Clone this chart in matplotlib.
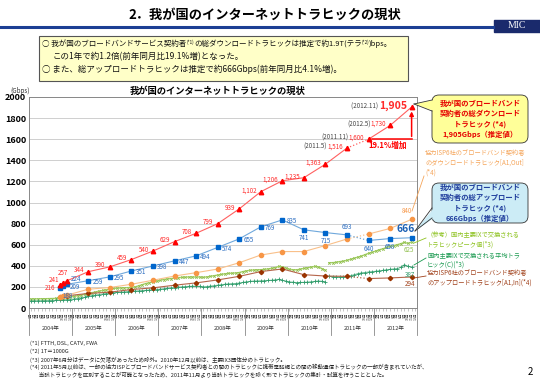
import matplotlib
matplotlib.use('Agg')
import matplotlib.pyplot as plt
from matplotlib.patches import FancyBboxPatch, Polygon, Rectangle
from matplotlib.offsetbox import TextArea, HPacker, AnnotationBbox
import numpy as np

plt.rcParams['font.family'] = ['Noto Sans CJK JP', 'DejaVu Sans']

# ---- data ----
years = ['2004年', '2005年', '2006年', '2007年', '2008年', '2009年', '2010年', '2011年', '2012年']
month_names = ['1月', '2月', '3月', '4月', '5月', '6月', '7月', '8月', '9月', '10月', '11月', '12月']

# month index: 0 = 2004年1月
semi_months = [8, 9, 10, 16, 22, 28, 34, 40, 46, 52, 58, 64, 70, 76, 82, 88, 94, 100, 106]
total_down = [216, 241, 257, 344, 390, 459, 540, 629, 708, 799, 939, 1102, 1206, 1235, 1363, 1516, 1600, 1730, 1905]
total_up = [188, 209, 224, 259, 295, 351, 398, 447, 494, 574, 655, 769, 835, 741, 715, 693, 640, 658, 666]
isp_down = [108, 115, 121, 178, 194, 225, 263, 303, 335, 369, 429, 502, 535, 535, 592, 654, 701, 754, 840]
isp_up = [104, 110, 116, 138, 150, 175, 191, 216, 238, 266, 300, 345, 370, 316, 303, 300, 279, 285, 294]
down_prefix = {15: '(2011.5)', 16: '(2011.11)', 17: '(2012.5)', 18: '(2012.11)'}

# IX monthly, 2004.1-2010.11 (3 IX) and 2010.12-2012.11 (5 IX)
ix_peak_a = [85, 86, 87, 88, 88, 89, 90, 91, 92, 95, 99, 104,
             110, 116, 122, 130, 137, 145, 152, 160, 166, 172, 179, 185,
             188, 190, 192, 193, 195, 200, 210, 221, 232, 240, 247, 255,
             262, 270, 276, 279, 283, 287, 290, 292, 294, 294, 293, 294,
             290, 295, 300, 306, 312, 318, 324, 328, 330, 332, 336, 345,
             352, 357, 360, 362, 363, 366, 370, 376, 383, 394, 388, 380,
             366, 363, 362, 368, 376, 382, 388, 394, 390, 374, 358]
ix_peak_b = [429, 430, 433, 440, 444, 452, 462, 472, 482, 492, 505, 519,
             528, 540, 552, 561, 574, 585, 592, 600, 610, 622, 612, 625]
ix_avg_a = [66, 67, 68, 68, 69, 70, 71, 72, 74, 76, 78, 80,
            85, 90, 96, 103, 110, 117, 122, 127, 132, 137, 141, 145,
            147, 150, 152, 155, 158, 160, 162, 165, 167, 170, 173, 175,
            178, 182, 186, 190, 194, 197, 200, 203, 205, 206, 207, 205,
            200, 203, 207, 211, 216, 220, 225, 228, 230, 232, 236, 242,
            248, 252, 255, 256, 257, 259, 261, 263, 266, 272, 262, 255,
            247, 244, 241, 242, 243, 245, 248, 252, 256, 253, 247]
ix_avg_b = [300, 298, 295, 294, 296, 300, 306, 315, 325, 332, 336, 341,
            344, 348, 352, 357, 362, 366, 370, 373, 385, 410, 395, 387]

footnotes = [
    '(*1) FTTH, DSL, CATV, FWA',
    '(*2) 1T＝1000G',
    '(*3) 2007年6月分はデータに欠落があったため除外。2010年12月以前は、主要IX3団体分のトラヒック。',
    '(*4) 2011年5月以前は、一部の協力ISPとブロードバンドサービス契約者との間のトラヒックに携帯電話網との間の移動通信トラヒックの一部が含まれていたが、',
    '       当該トラヒックを区別することが可能となったため、2011年11月より当該トラヒックを除く形でトラヒックの集計・試算を行うこととした。',
]

W, H = 540, 383


def fx(x):
    return x / W


def fy(y):
    return 1 - y / H


def px(x, y):
    return (x / 100, (H - y) / 100)


fig = plt.figure(figsize=(5.4, 3.83), dpi=100)

# ---- header ----
fig.text(fx(265), fy(15), '2．我が国のインターネットトラヒックの現状', ha='center', va='center',
         fontsize=9.5, fontweight='bold')
fig.add_artist(plt.Line2D([0, fx(493)], [fy(27), fy(27)], color='#1c3f94', lw=2.2))
fig.add_artist(Rectangle((fx(494), fy(32)), fx(46), 12 / H, color='#1a2a6c'))
fig.text(fx(517), fy(26), 'MIC', ha='center', va='center', color='white', fontsize=7,
         family='Liberation Serif')

fig.add_artist(Rectangle((fx(39), fy(81)), fx(369), 45 / H, fc='#ffffc8', ec='#555555', lw=0.8))


def info_line(parts, x, y, size):
    kids = []
    for s, small in parts:
        kids.append(TextArea(s, textprops=dict(fontsize=size * 0.6 if small else size, color='#111111')))
    box = HPacker(children=kids, align='top', pad=0, sep=0)
    fig.add_artist(AnnotationBbox(box, (fx(x), fy(y)), xycoords='figure fraction',
                                  box_alignment=(0, 0.5), frameon=False, pad=0))


info_line([('○ 我が国のブロードバンドサービス契約者', False), ('(*1)', True),
           ('の総ダウンロードトラヒックは推定で約1.9T(テラ', False), ('(*2)', True), (')bps。', False)],
          42, 44, 5.45)
info_line([('この1年で約1.2倍(前年同月比19.1%増)となった。', False)], 53, 56.5, 6.1)
info_line([('○ また、総アップロードトラヒックは推定で約666Gbps(前年同月比4.1%増)。', False)], 42, 69, 6.1)

# ---- chart ----
ax = fig.add_axes([fx(29), fy(308), fx(388), 211 / H])
fig.text(fx(10), fy(91), '(Gbps)', fontsize=4.5, va='center', color='#333333')
fig.text(fx(218), fy(91), '我が国のインターネットトラヒックの現状', ha='center', va='center',
         fontsize=6.7, fontweight='bold')

ax.set_xlim(-0.5, 107.5)
ax.set_ylim(0, 2000)
ax.set_yticks(range(0, 2001, 200))
ax.tick_params(axis='y', length=0, labelsize=6.5, pad=2)
for lab in ax.get_yticklabels():
    lab.set_fontweight('bold')
ax.grid(axis='y', color='#c8c8c8', lw=0.6)
ax.set_axisbelow(True)
for s in ax.spines.values():
    s.set_color('#888888')
    s.set_linewidth(0.7)

ax.set_xticks(range(108))
ax.set_xticklabels([month_names[m % 12] for m in range(108)], rotation=90, fontsize=2.6, color='#444444')
ax.tick_params(axis='x', length=2, width=0.4, color='#999999', pad=1)
tr = ax.get_xaxis_transform()
for k in range(10):
    ax.plot([12 * k - 0.5] * 2, [0, -0.13], transform=tr, color='#888888', lw=0.6, clip_on=False)
for k, yr in enumerate(years):
    ax.text(12 * k + 5.5, -0.095, yr, transform=tr, ha='center', va='center', fontsize=4, color='#333333')

# IX monthly
xa = np.arange(len(ix_peak_a))
xb = np.arange(len(ix_peak_a), len(ix_peak_a) + len(ix_peak_b))
ax.plot(xa, ix_peak_a, color='#a8d26a', lw=1.0, marker='x', ms=1.8, mec='#92c050', mew=0.6)
ax.plot(xb, ix_peak_b, color='#a8d26a', lw=1.0, marker='x', ms=1.8, mec='#92c050', mew=0.6)
ax.plot(xa, ix_avg_a, color='#5cb88a', lw=0.7, marker='+', ms=2.2, mec='#2e9a6a', mew=0.6)
ax.plot(xb, ix_avg_b, color='#5cb88a', lw=0.7, marker='+', ms=2.2, mec='#2e9a6a', mew=0.6)


def draw_series(vals, lcolor, mcolor, marker, ms):
    x = np.array(semi_months)
    y = np.array(vals)
    ax.plot(x[:16], y[:16], '-', color=lcolor, lw=0.8)
    ax.plot(x[15:17], y[15:17], ':', color=lcolor, lw=0.9)
    ax.plot(x[16:], y[16:], '-', color=lcolor, lw=0.8)
    ax.plot(x, y, ls='none', marker=marker, color=mcolor, ms=ms)


draw_series(isp_up, '#b5654a', '#993300', 'D', 2.2)
draw_series(isp_down, '#f9c08a', '#f79646', 'o', 3)
draw_series(total_up, '#6fa8dc', '#0066cc', 's', 3)
draw_series(total_down, '#ff6060', '#ff0000', '^', 3.2)

# red labels
red = '#ff2a2a'
red_off = {0: (-3, -2), 1: (-3, 1.5), 2: (1, 5.5)}
for i, (m, v) in enumerate(zip(semi_months, total_down)):
    if i == 18:
        kids = [TextArea(down_prefix[i] + ' ', textprops=dict(fontsize=4.5, color='#444444')),
                TextArea(f'{v:,}', textprops=dict(fontsize=7.5, color=red, fontweight='bold'))]
    elif i in down_prefix:
        kids = [TextArea(down_prefix[i], textprops=dict(fontsize=4.5, color='#444444')),
                TextArea(f'{v:,}', textprops=dict(fontsize=4.5, color=red))]
    else:
        kids = [TextArea(f'{v:,}', textprops=dict(fontsize=4.5, color=red))]
    box = HPacker(children=kids, align='baseline', pad=0, sep=0)
    ax.add_artist(AnnotationBbox(box, (m, v), xybox=red_off.get(i, (-3, 1)), boxcoords='offset points',
                                 box_alignment=(1, 0.5), frameon=False, pad=0))

# blue labels
blue = '#2a6cc0'
for i, (m, v) in enumerate(zip(semi_months, total_up)):
    kw = dict(fontsize=4.5, color=blue)
    if i == 0:
        ax.annotate(str(v), (m, v), xytext=(2, -5.5), textcoords='offset points', ha='left', va='center', **kw)
    elif i == 1:
        ax.annotate(str(v), (m, v), xytext=(5, -1), textcoords='offset points', ha='left', va='center', **kw)
    elif i == 2:
        ax.annotate(str(v), (m, v), xytext=(3, 4), textcoords='offset points', ha='left', va='center', **kw)
    elif i in (13, 14, 16, 17):
        ax.annotate(str(v), (m, v), xytext=(0, -3), textcoords='offset points', ha='center', va='top', **kw)
    elif i == 15:
        ax.annotate(str(v), (m, v), xytext=(0, 2.5), textcoords='offset points', ha='center', va='bottom', **kw)
    elif i == 18:
        ax.annotate(str(v), (m, v), xytext=(-4, 2.5), textcoords='offset points', ha='center', va='bottom',
                    fontsize=7.5, color='#1a5fb4', fontweight='bold')
    else:
        ax.annotate(str(v), (m, v), xytext=(3, -1), textcoords='offset points', ha='left', va='center', **kw)

ax.annotate(str(isp_down[-1]), (semi_months[-1], isp_down[-1]), xytext=(0, 3), textcoords='offset points',
            ha='right', va='bottom', fontsize=4.5, color='#f79646')
ax.annotate(str(ix_peak_b[-1]), (xb[-1], ix_peak_b[-1]), xytext=(-2, -3), textcoords='offset points',
            ha='center', va='top', fontsize=4.5, color='#92c050')
ax.annotate(str(ix_avg_b[-1]), (xb[-1], ix_avg_b[-1]), xytext=(-1, -2.5), textcoords='offset points',
            ha='center', va='top', fontsize=4.5, color='#2e9a6a')
ax.annotate(str(isp_up[-1]), (semi_months[-1], isp_up[-1]), xytext=(-1, -2.5), textcoords='offset points',
            ha='center', va='top', fontsize=4.5, color='#a0401a')

# 19.1% arrow
ax.plot([semi_months[16] + 1, semi_months[18]], [total_down[16], total_down[16]], color='#ff0000', lw=1.1)
ax.annotate('', xy=(semi_months[18], total_down[18] - 15), xytext=(semi_months[18], total_down[16]),
            arrowprops=dict(arrowstyle='-|>', color='#ff0000', lw=1.1, mutation_scale=6))
ax.text(99.2, 1545, '19.1%増加', color='#ff0000', fontsize=5.5, fontweight='bold', ha='center', va='center')


# ---- callouts ----
def callout(x0, y0, x1, y1, base, tip, fc, text, color):
    fig.add_artist(FancyBboxPatch(px(x0, y1), (x1 - x0) / 100, (y1 - y0) / 100,
                                  boxstyle='round,pad=0,rounding_size=0.07', transform=fig.dpi_scale_trans,
                                  fc=fc, ec='#333333', lw=0.6, zorder=3))
    (bx0, by0), (bx1, by1) = base
    fig.add_artist(Polygon([px(bx0 + 2, by0), px(bx1 + 2, by1), px(*tip)], closed=True,
                           transform=fig.dpi_scale_trans, fc=fc, ec='none', zorder=4))
    for bx, by in base:
        fig.add_artist(plt.Line2D([bx / 100, tip[0] / 100], [(H - by) / 100, (H - tip[1]) / 100],
                                  transform=fig.dpi_scale_trans, color='#333333', lw=0.6, zorder=5))
    fig.text(fx((x0 + x1) / 2), fy((y0 + y1) / 2), text, ha='center', va='center', fontsize=5.3,
             fontweight='bold', color=color, linespacing=1.45, zorder=6)


callout(432, 95, 528, 143, [(432, 100), (432, 111)], (414, 104), '#ffff99',
        '我が国のブロードバンド\n契約者の総ダウンロード\nトラヒック (*4)\n1,905Gbps（推定値）', '#e60000')
callout(432, 183, 528, 223, [(432, 208), (432, 218)], (415, 231), '#ccecf6',
        '我が国のブロードバンド\n契約者の総アップロード\nトラヒック (*4)\n666Gbps（推定値）', '#1f3d9c')

side = [
    (425, 163, '協力ISP6社のブロードバンド契約者\nのダウンロードトラヒック[A1,Out]\n(*4)', '#f5a55a', (424, 176), (412, 211)),
    (427, 240, '（参考）国内主要IXで交換される\nトラヒックピーク値(*3)', '#8dc21f', (426, 238), (414, 243)),
    (427, 260, '国内主要IXで交換される平均トラ\nヒック(C)(*3)', '#1a9a50', (426, 258), (414, 265)),
    (427, 278, '協力ISP6社のブロードバンド契約者\nのアップロードトラヒック[A1,In](*4)', '#a0401a', (426, 276), (414, 278)),
]
for x, y, s, c, p0, p1 in side:
    fig.text(fx(x), fy(y), s, ha='left', va='center', fontsize=4.5, color=c, linespacing=1.3)
    fig.add_artist(plt.Line2D([fx(p0[0]), fx(p1[0])], [fy(p0[1]), fy(p1[1])], color=c, lw=0.6))

# ---- footnotes ----
for s, y in zip(footnotes, [343, 351.5, 359.5, 367, 374]):
    fig.text(fx(30), fy(y), s, fontsize=4.0, va='center', color='#222222')
fig.text(fx(530), fy(372), '2', fontsize=7, ha='center', va='center')

fig.savefig('out.png', dpi=100)
